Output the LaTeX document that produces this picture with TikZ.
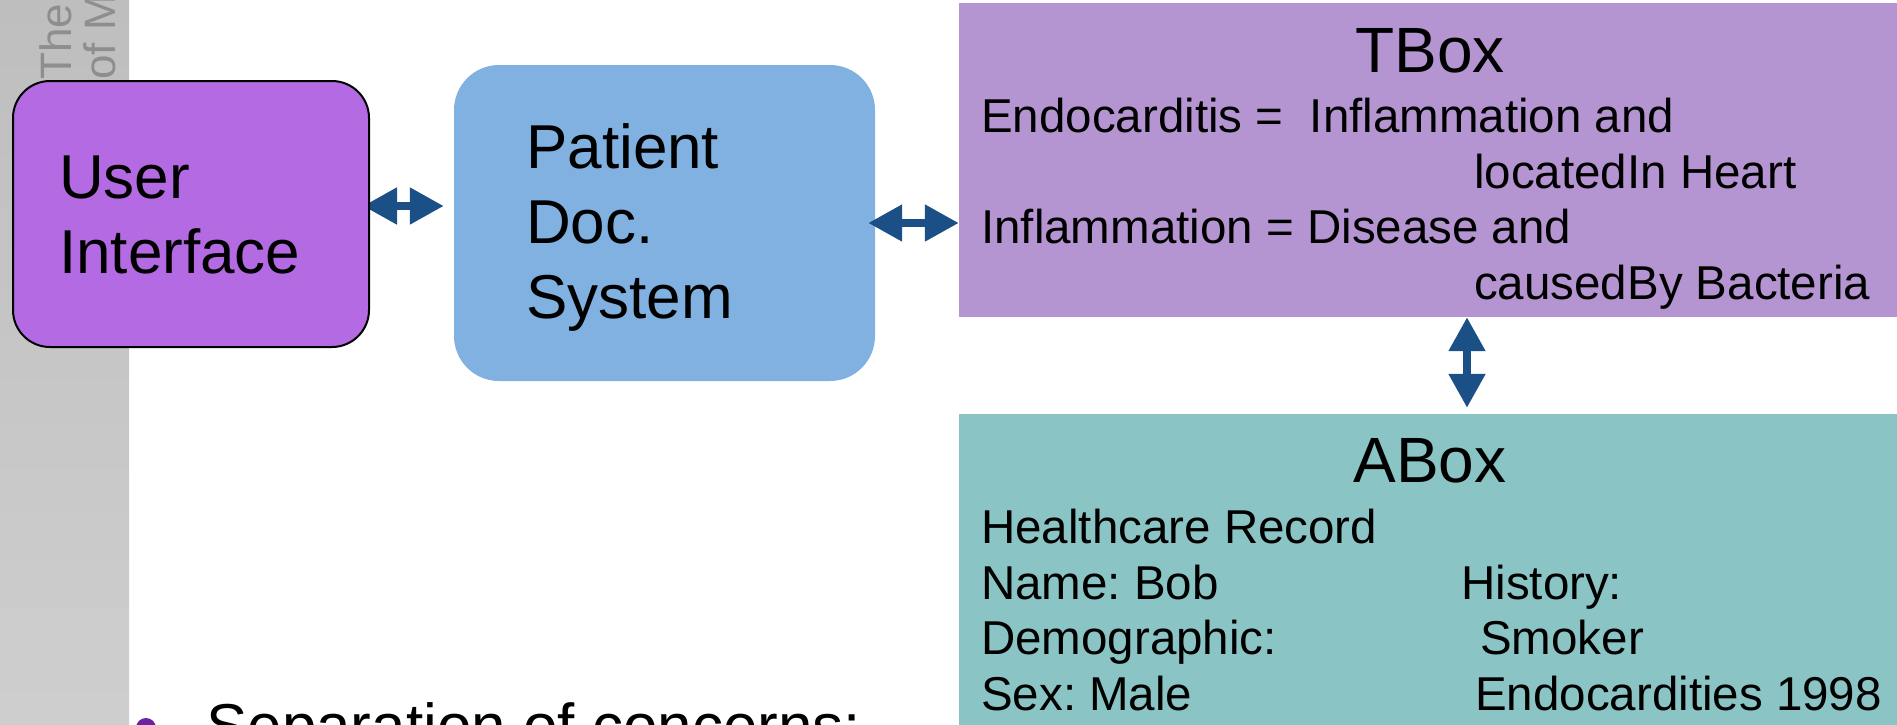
\documentclass[tikz,border=0pt]{standalone}
\usepackage{fontspec}
\setmainfont{Liberation Sans}
\usetikzlibrary{arrows.meta,backgrounds}
\frenchspacing

\definecolor{stripgray}{HTML}{BEBEBE}
\definecolor{logogray}{HTML}{8E8E8E}
\definecolor{uipurple}{HTML}{B36AE2}
\definecolor{pdsblue}{HTML}{80B1E0}
\definecolor{tboxlilac}{HTML}{B595D1}
\definecolor{aboxteal}{HTML}{8AC4C4}
\definecolor{arrowblue}{HTML}{1B5087}
\definecolor{bulletpurple}{HTML}{6B22A0}

\begin{document}
\begin{tikzpicture}[
    x=1pt, y=-1pt,
    box/.style={rectangle, inner sep=0pt},
    bigtext/.style={inner sep=0pt, align=left, font=\fontsize{62}{75}\selectfont},
    boxtitle/.style={inner sep=0pt, font=\fontsize{64}{70}\selectfont},
    boxbody/.style={inner sep=0pt, align=left, font=\fontsize{47.5}{55.5}\selectfont},
    blockarrow/.style={draw=arrowblue, line width=8pt, {Triangle[length=34pt,width=35pt]}-{Triangle[length=34pt,width=35pt]}}
]
    \useasboundingbox (0,0) rectangle (1897,724);
    \clip (0,0) rectangle (1897,724);

    % boxes
    \node[box, draw=black, line width=2pt, fill=uipurple, rounded corners=37pt, minimum width=356pt, minimum height=266pt] (ui) at (191,214) {};
    \node[box, fill=pdsblue, rounded corners=45pt, minimum width=421pt, minimum height=316pt] (pds) at (664.5,223) {};
    \node[box, fill=tboxlilac, minimum width=938pt, minimum height=314pt] (tbox) at (1428,160) {};
    \node[box, fill=aboxteal, minimum width=938pt, minimum height=326pt] (abox) at (1428,577) {};

    % texts (base = last line)
    \node[bigtext, anchor=base west] (uitext) at (59,273) {User\\Interface};
    \node[bigtext, anchor=base west] (pdstext) at (526,318) {Patient\\Doc.\\System};
    \node[boxtitle, anchor=base] (ttitle) at (1430,72) {TBox};
    \node[boxbody, anchor=base west] (tbody) at (981,299) {Endocarditis =\ \ Inflammation and\\\hspace*{493pt}locatedIn Heart\\Inflammation = Disease and\\\hspace*{493pt}causedBy Bacteria};
    \node[boxtitle, anchor=base] (atitle) at (1430,482) {ABox};
    \node[boxbody, anchor=base west] (aleft) at (981,710) {Healthcare Record\\Name: Bob\\Demographic:\\Sex: Male};
    \node[boxbody, anchor=base west] (aright) at (1461,710) {History:\\\hspace*{19pt}Smoker\\\hspace*{14pt}Endocardities 1998};

    % bullet line at the bottom
    \node[circle, fill=bulletpurple, minimum size=20pt, inner sep=0pt] (dot) at (146,728) {};
    \node[bigtext, anchor=base west] (concerns) at (206,747) {Separation of concerns:};

    % connectors
    \draw[blockarrow, shorten <=-7pt] (pds.east) -- (pds.east -| tbox.west);
    \draw[blockarrow, shorten >=6pt] ([xshift=39pt]tbox.south) -- ([xshift=39pt]tbox.south |- abox.north);

    \begin{pgfonlayer}{background}
        \shade[top color=stripgray, bottom color=stripgray!75!white] (0,0) rectangle (129,724);
        \node[inner sep=0pt, rotate=90, anchor=base west, align=left, text=logogray, font=\fontsize{44}{44}\selectfont] (logo) at (115,80) {The University\\of Manchester};
        \draw[blockarrow, shorten <=-7pt, shorten >=10pt] ([yshift=8pt]ui.east) -- ([yshift=8pt]ui.east -| pds.west);
    \end{pgfonlayer}
\end{tikzpicture}
\end{document}
